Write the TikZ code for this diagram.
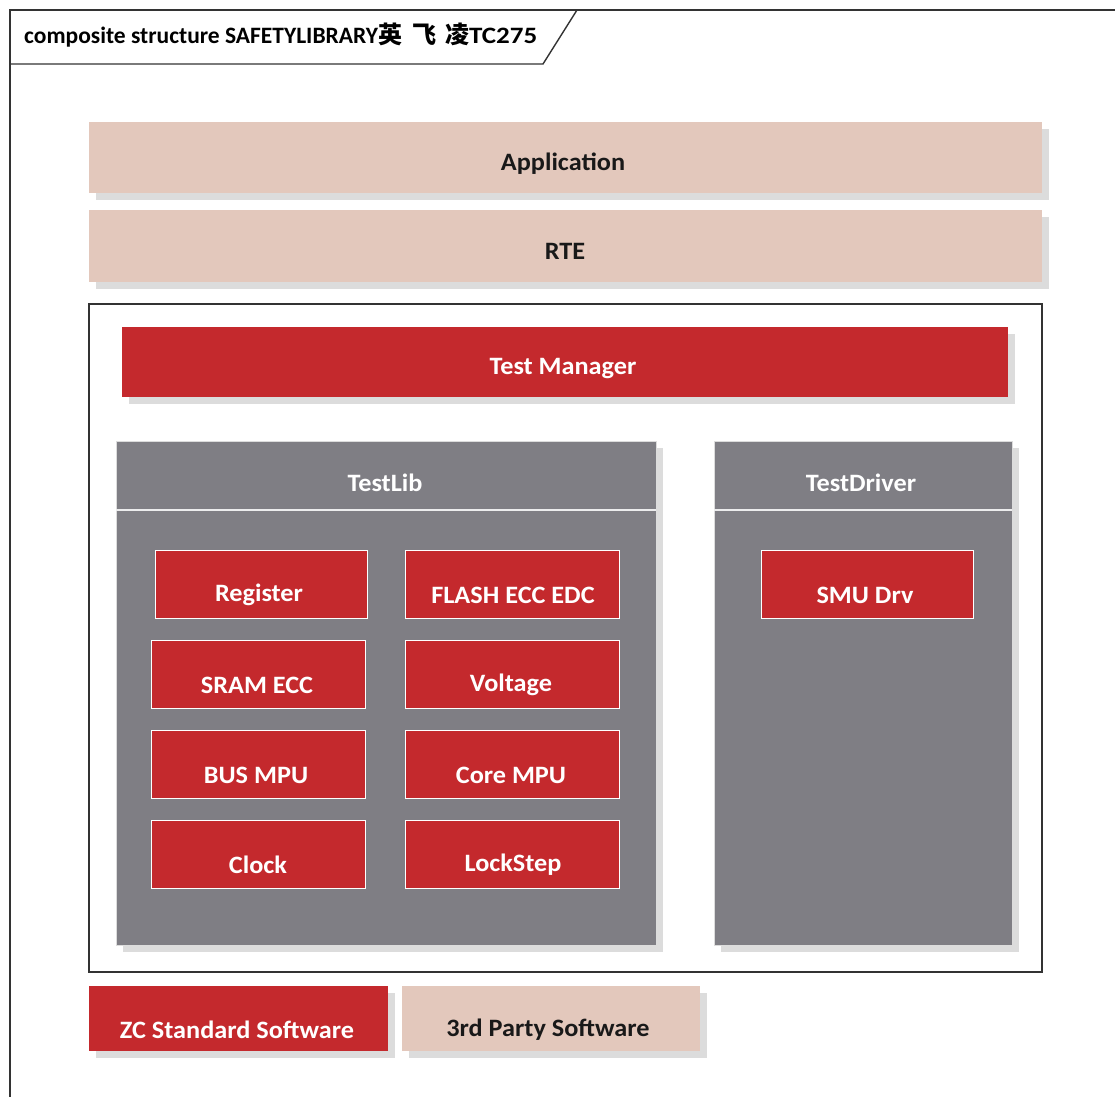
\documentclass[tikz,border=0pt]{standalone}
\usepackage{fontspec}
\setmainfont{Carlito}
\newfontfamily\cjkfont{Noto Sans CJK SC}
\usetikzlibrary{shadows}
\definecolor{beige}{HTML}{E3C8BC}
\definecolor{brick}{HTML}{C4292D}
\definecolor{slate}{HTML}{7F7E84}
\definecolor{shade}{HTML}{DCDCDC}
\definecolor{framegray}{HTML}{333333}
\newcommand{\labelfont}{\fontsize{25}{28}\selectfont\bfseries\addfontfeatures{FakeStretch=1.05}}
\tikzset{
  block/.style={anchor=north west, inner sep=0pt, outer sep=0pt},
  shadowed/.style={drop shadow={shadow xshift=7pt, shadow yshift=-7pt, fill=shade, opacity=1}},
  layer/.style={block, shadowed, fill=beige},
  redlayer/.style={block, shadowed, fill=brick},
  container/.style={block, shadowed, fill=slate, draw=shade, line width=0.8pt},
  module/.style={block, fill=brick, draw=white, line width=1pt},
  lighttext/.style={font=\labelfont, text=white, inner sep=0pt},
  darktext/.style={font=\labelfont, text=black!90, inner sep=0pt},
  divider/.style={draw=white!85!slate, line width=1.2pt},
  frameline/.style={draw=framegray, line width=1.4pt},
}
\begin{document}
\begin{tikzpicture}[x=1pt, y=-1pt]
\useasboundingbox[fill=white] (0,0) rectangle (1115,1096);

% diagram frame with its name tab
\draw[frameline] (10,1110) -- (10,10) -- (1125,10);
\draw[frameline] (10,64) -- (543,64) -- (577,10);
\node[anchor=base west, inner sep=0pt, font=\fontsize{23.5}{26}\selectfont\bfseries] (title) at (24,43)
  {composite structure SAFETYLIBRARY{\cjkfont\fontsize{24}{26}\selectfont 英\hspace{10pt}飞\hspace{9pt}凌}{\addfontfeatures{FakeStretch=1.15}TC275}};

% upper layers
\node[layer, minimum width=953pt, minimum height=71pt] (app) at (89,122) {};
\node[darktext] (applbl) at (563,164) {Application};
\node[layer, minimum width=953pt, minimum height=72pt] (rte) at (89,210) {};
\node[darktext] (rtelbl) at (565,251) {RTE};

% safety library package
\node[block, draw=framegray, line width=1.4pt, fill=white, minimum width=953pt, minimum height=668pt] (pkg) at (89,304) {};

\node[redlayer, minimum width=886pt, minimum height=70pt] (tm) at (122,327) {};
\node[lighttext] (tmlbl) at (563,369) {Test Manager};

% TestLib container
\node[container, minimum width=540pt, minimum height=504pt] (tl) at (116,441) {};
\node[lighttext] (tllbl) at (385,483) {TestLib};
\draw[divider] ([yshift=-69pt]tl.north west) -- ([yshift=-69pt]tl.north east);

% TestDriver container
\node[container, minimum width=298pt, minimum height=504pt] (td) at (714,441) {};
\node[lighttext] (tdlbl) at (861,483) {TestDriver};
\draw[divider] ([yshift=-69pt]td.north west) -- ([yshift=-69pt]td.north east);

% test modules
\node[module, minimum width=212pt, minimum height=68pt] (reg) at (155,550) {};
\node[lighttext] at (259,595) {Register};
\node[module, minimum width=214pt, minimum height=68pt] (flash) at (405,550) {};
\node[lighttext] at (513,595) {FLASH ECC EDC};
\node[module, minimum width=214pt, minimum height=68pt] (sram) at (151,640) {};
\node[lighttext] at (257,685) {SRAM ECC};
\node[module, minimum width=214pt, minimum height=68pt] (volt) at (405,640) {};
\node[lighttext] at (511,685) {Voltage};
\node[module, minimum width=214pt, minimum height=68pt] (bus) at (151,730) {};
\node[lighttext] at (256,775) {BUS MPU};
\node[module, minimum width=214pt, minimum height=68pt] (core) at (405,730) {};
\node[lighttext] at (511,775) {Core MPU};
\node[module, minimum width=214pt, minimum height=68pt] (clk) at (151,820) {};
\node[lighttext] at (258,865) {Clock};
\node[module, minimum width=214pt, minimum height=68pt] (lock) at (405,820) {};
\node[lighttext] at (513,865) {LockStep};
\node[module, minimum width=212pt, minimum height=68pt] (smu) at (761,550) {};
\node[lighttext] at (865,595) {SMU Drv};

% legend
\node[redlayer, minimum width=299pt, minimum height=65pt] (zc) at (89,986) {};
\node[lighttext] at (237,1030) {ZC Standard Software};
\node[layer, minimum width=298pt, minimum height=65pt] (third) at (402,986) {};
\node[darktext] at (548,1030) {3rd Party Software};
\end{tikzpicture}
\end{document}
